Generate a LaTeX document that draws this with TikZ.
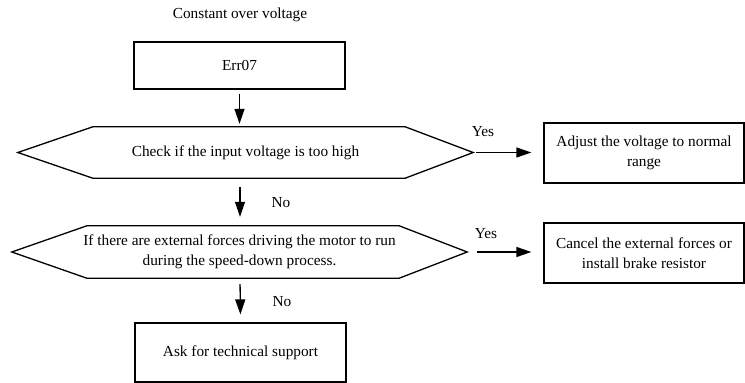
\documentclass[tikz,border=0pt]{standalone}
\usepackage{fontspec}
\setmainfont{Liberation Serif}
\usetikzlibrary{arrows.meta}
\begin{document}
\begin{tikzpicture}[x=1pt,y=-1pt,
  every node/.style={font=\fontsize{15.3}{20}\selectfont},
  box/.style={draw, line width=1.3pt, inner sep=0pt, align=center},
  hexcore/.style={inner sep=0pt, align=center, minimum width=455pt},
  lab/.style={inner sep=0pt},
  arr/.style={line width=1.3pt, -{Triangle[length=15pt,width=10pt]}},
  hexline/.style={line width=1.3pt, line join=miter}]
\useasboundingbox (0,0) rectangle (745,383);
\coordinate (ax) at (240,0);
\node[lab] (title) at (240,15) {Constant over voltage};
\node[box, minimum width=211pt, minimum height=47pt] (e07) at (239.5,65.5) {Err07};
\node[hexcore, minimum height=51pt] (d1) at (245.5,152.5) {Check if the input voltage is too high};
\draw[hexline] (d1.west) -- ([xshift=75pt]d1.north west) -- ([xshift=-68pt]d1.north east) -- (d1.east)
  -- ([xshift=-68pt]d1.south east) -- ([xshift=75pt]d1.south west) -- cycle;
\node[hexcore, minimum height=52pt] (d2) at (239.5,252) {If there are external forces driving the motor to run\\during the speed-down process.};
\draw[hexline] (d2.west) -- ([xshift=75pt]d2.north west) -- ([xshift=-68pt]d2.north east) -- (d2.east)
  -- ([xshift=-68pt]d2.south east) -- ([xshift=75pt]d2.south west) -- cycle;
\node[box, minimum width=200pt, minimum height=60pt] (adj) at (644,153) {Adjust the voltage to normal\\range};
\node[box, minimum width=200pt, minimum height=60pt] (cancel) at (644,253) {Cancel the external forces or\\install brake resistor};
\node[box, minimum width=211pt, minimum height=59pt] (ask) at (240.5,352.5) {Ask for technical support};
\draw[arr, shorten <=4pt, shorten >=3pt] (e07.south) -- (e07.south |- d1.north);
\draw[arr, shorten <=9pt, shorten >=9pt] (ax |- d1.south) -- (ax |- d2.north);
\draw[arr, shorten <=6pt, shorten >=8pt] (ax |- d2.south) -- (ask.north);
\draw[arr, shorten <=3pt, shorten >=12pt] (d1.east) -- (d1.east -| adj.west);
\draw[arr, shorten <=10pt, shorten >=12pt] (d2.east) -- (d2.east -| cancel.west);
\node[lab] (yes1) at (483,132) {Yes};
\node[lab] (yes2) at (486,234) {Yes};
\node[lab] (no1) at (281,203) {No};
\node[lab] (no2) at (282,302) {No};
\end{tikzpicture}
\end{document}
